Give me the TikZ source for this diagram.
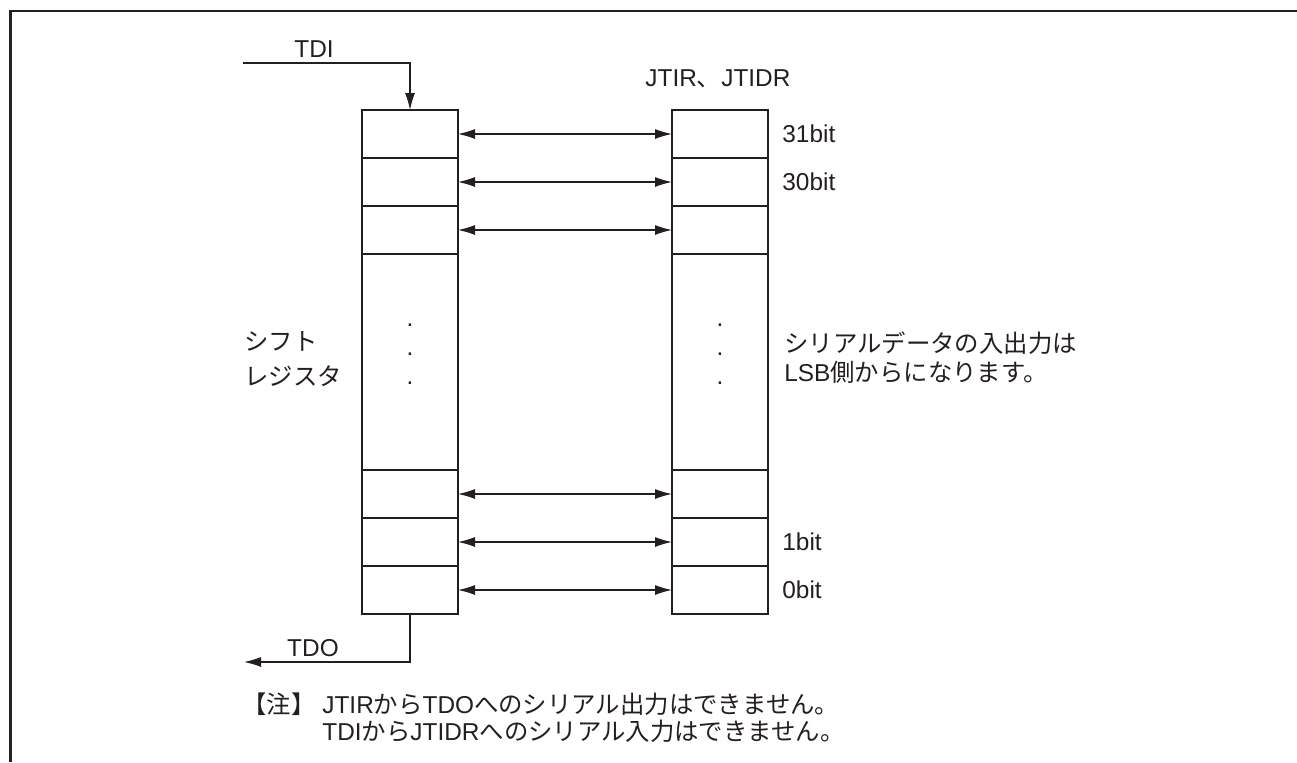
\documentclass[tikz,border=0pt]{standalone}
\usepackage{fontspec}
\setmainfont{Liberation Sans}
\newfontfamily\jp{Noto Sans CJK JP}
\usetikzlibrary{arrows.meta}
\definecolor{ink}{HTML}{231F20}
\begin{document}
\begin{tikzpicture}[x=0.5pt,y=-0.5pt,
  every node/.style={text=ink, font=\fontsize{12.2}{14}\selectfont},
  cell/.style={draw=ink, line width=1pt, minimum width=48pt, minimum height=24pt, inner sep=0pt, outer sep=0pt},
  tall/.style={cell, minimum height=108pt},
  link/.style={draw=ink, line width=0.6pt, {Latex[length=8.5pt,width=5pt]}-{Latex[length=8.5pt,width=5pt]}},
  feed/.style={draw=ink, line width=0.6pt, -{Latex[length=8.5pt,width=5pt]}},
  lbl/.style={anchor=west, inner sep=0pt, align=left},
  dots/.style={inner sep=0pt, align=center, font=\fontsize{12.2}{14.5}\selectfont}]
\useasboundingbox (0,0) rectangle (1297,762);
\draw[ink, line width=1.3pt] (10.5,762) -- (10.5,11) -- (1297,11);

% shift register cells
\node[cell] (L31) at (410,134) {};
\node[cell] (L30) at (410,182) {};
\node[cell] (L29) at (410,230) {};
\node[tall] (Lm)  at (410,362) {};
\node[cell] (L2)  at (410,494) {};
\node[cell] (L1)  at (410,542) {};
\node[cell] (L0)  at (410,590) {};
% JTIR/JTIDR cells
\node[cell] (R31) at (720,134) {};
\node[cell] (R30) at (720,182) {};
\node[cell] (R29) at (720,230) {};
\node[tall] (Rm)  at (720,362) {};
\node[cell] (R2)  at (720,494) {};
\node[cell] (R1)  at (720,542) {};
\node[cell] (R0)  at (720,590) {};

\node[dots] (ldots) at (410,354) {.\\.\\.};
\node[dots] (rdots) at (720,354) {.\\.\\.};

% bidirectional links
\draw[link] (L31) -- (R31);
\draw[link] (L30) -- (R30);
\draw[link] (L29) -- (R29);
\draw[link] (L2) -- (R2);
\draw[link] (L1) -- (R1);
\draw[link] (L0) -- (R0);

% TDI / TDO
\coordinate (tdiS) at (243,63);
\coordinate (tdoE) at (244,662);
\node (tdi) at (314,49) {TDI};
\node (tdo) at (313,648) {TDO};
\draw[feed] (tdiS) -| (L31.north);
\draw[feed] (L0.south) |- (tdoE);

% labels
\node[lbl] (regname) at (645,79) {JTIR{\jp 、}JTIDR};
\node[lbl] (b31) at (782,134) {31bit};
\node[lbl] (b30) at (782,182) {30bit};
\node[lbl] (b1)  at (782,542) {1bit};
\node[lbl] (b0)  at (782,590) {0bit};
\node[lbl, font=\fontsize{12.2}{17.5}\selectfont] (shift) at (244,359.5) {{\jp シフト}\\{\jp レジスタ}};
\node[lbl, font=\fontsize{12.2}{14.5}\selectfont] (lsb) at (784,357.5) {{\jp シリアルデータの入出力は}\\LSB{\jp 側からになります。}};
\node[lbl, font=\fontsize{12.2}{13.5}\selectfont] (note) at (242,718) {{\jp 【注】}\ JTIR{\jp から}TDO{\jp へのシリアル出力はできません。}\\\phantom{{\jp 【注】}\ }TDI{\jp から}JTIDR{\jp へのシリアル入力はできません。}};
\end{tikzpicture}
\end{document}
